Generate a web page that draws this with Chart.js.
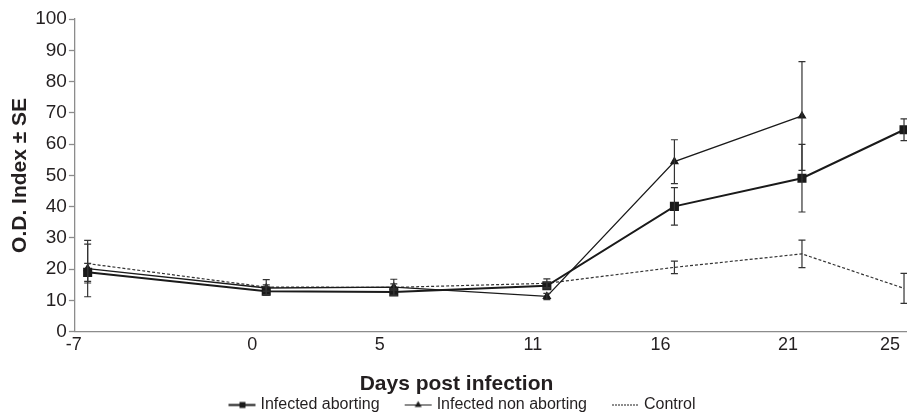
<!DOCTYPE html>
<html>
<head>
<meta charset="utf-8">
<script src="https://cdn.jsdelivr.net/npm/chart.js@4.4.1/dist/chart.umd.min.js"></script>
<style>
html,body{margin:0;padding:0;background:#fff;}
#wrap{width:907px;height:414px;position:relative;}
</style>
</head>
<body>
<div id="wrap"><canvas id="c" width="907" height="414"></canvas></div>
<script>
// ---- data ----
const days = [-7, 0, 5, 11, 16, 21, 25];
const abortingMean = [19.0, 13.0, 12.7, 14.7, 40.1, 49.1, 64.6];
const abortingSE   = [2.9, 1.4, 1.0, 1.0, 6.0, 10.8, 3.5];
const nonAbortingMean = [20.2, 14.0, 14.3, 11.3, 54.4, 69.0, null];
const nonAbortingSE   = [9.0, 1.0, 1.0, 1.0, 7.0, 17.4, null];
const controlMean = [21.8, 14.3, 14.2, 15.5, 20.6, 24.9, 13.9];
const controlSE   = [6.2, 2.4, 2.6, 1.4, 2.0, 4.4, 4.8];
const yTicks = [0, 10, 20, 30, 40, 50, 60, 70, 80, 90, 100];
const seriesNames = ['Infected aborting', 'Infected non aborting', 'Control'];

const TXT = '#231f20';
const FONT = "'Liberation Sans', Arial, Helvetica, sans-serif";

function pts(means) {
  return days.map((d, i) => means[i] == null ? null : {x: d, y: means[i]}).filter(p => p);
}

// legend samples (drawn on the right part of a wider transparent canvas)
const LB = 35;            // legend box width
const SW = LB + 8, SH = 11, S1 = SW - 1, S0 = S1 - 27;
function sample(kind) {
  const c = document.createElement('canvas');
  c.width = SW; c.height = SH;
  const g = c.getContext('2d');
  g.strokeStyle = '#1a1a1a';
  g.fillStyle = '#1a1a1a';
  const cx = (S0 + S1) / 2;
  if (kind === 'dash') {
    g.lineWidth = 1;
    g.setLineDash([2, 1]);
    g.beginPath(); g.moveTo(S0, 5.5); g.lineTo(S1, 5.5); g.stroke();
  } else if (kind === 'sq') {
    g.lineWidth = 2;
    g.beginPath(); g.moveTo(S0, 5.5); g.lineTo(S1, 5.5); g.stroke();
    g.fillRect(Math.round(cx) - 3, 2.5, 6, 6);
  } else {
    g.lineWidth = 1;
    g.beginPath(); g.moveTo(S0, 5.5); g.lineTo(S1, 5.5); g.stroke();
    g.beginPath(); g.moveTo(cx, 1.5); g.lineTo(cx + 3.5, 7.5); g.lineTo(cx - 3.5, 7.5); g.closePath(); g.fill();
  }
  return c;
}
const samples = [sample('sq'), sample('tri'), sample('dash')];

const errorBars = {
  id: 'errorBars',
  afterDatasetsDraw(chart) {
    const ctx = chart.ctx;
    const xs = chart.scales.x, ys = chart.scales.y;
    chart.data.datasets.forEach(ds => {
      const se = ds.se;
      ctx.save();
      ctx.strokeStyle = '#333';
      ctx.lineWidth = 1.2;
      days.forEach((d, i) => {
        const m = ds.mean[i], e = se[i];
        if (m == null || e == null) return;
        const x = xs.getPixelForValue(d);
        const y1 = ys.getPixelForValue(m + e), y2 = ys.getPixelForValue(m - e);
        ctx.beginPath();
        ctx.moveTo(x, y1); ctx.lineTo(x, y2);
        ctx.moveTo(x - 3.5, y1); ctx.lineTo(x + 3.5, y1);
        ctx.moveTo(x - 3.5, y2); ctx.lineTo(x + 3.5, y2);
        ctx.stroke();
      });
      ctx.restore();
    });
  }
};

new Chart(document.getElementById('c'), {
  type: 'line',
  data: {
    datasets: [
      {
        label: seriesNames[0], data: pts(abortingMean), mean: abortingMean, se: abortingSE,
        borderColor: '#1a1a1a', backgroundColor: '#1a1a1a', borderWidth: 2,
        pointStyle: 'rect', pointRadius: 5, pointHoverRadius: 5, order: 1
      },
      {
        label: seriesNames[1], data: pts(nonAbortingMean), mean: nonAbortingMean, se: nonAbortingSE,
        borderColor: '#1a1a1a', backgroundColor: '#1a1a1a', borderWidth: 1.3,
        pointStyle: 'triangle', pointRadius: 4, pointHoverRadius: 4, order: 2
      },
      {
        label: seriesNames[2], data: pts(controlMean), mean: controlMean, se: controlSE,
        borderColor: '#333', backgroundColor: '#333', borderWidth: 1.2, borderDash: [3, 2],
        pointRadius: 0, pointHoverRadius: 0, order: 3
      }
    ]
  },
  options: {
    responsive: false,
    animation: false,
    layout: { autoPadding: false, padding: { top: 19, left: 6, right: 0, bottom: -9 } },
    plugins: {
      tooltip: { enabled: false },
      title: {
        display: true, position: 'bottom', text: 'Days post infection', weight: 500,
        color: TXT, font: { family: FONT, size: 21, weight: 'bold' },
        padding: { top: 14, bottom: -13.6 }
      },
      legend: {
        position: 'bottom',
        labels: {
          color: TXT, font: { family: FONT, size: 16 },
          usePointStyle: true, pointStyleWidth: LB, padding: 14,
          generateLabels: (chart) => seriesNames.map((n, i) => ({
            text: n, pointStyle: samples[i], datasetIndex: i, hidden: false,
            fillStyle: '#222', strokeStyle: '#222', lineWidth: 0, fontColor: TXT
          }))
        }
      }
    },
    scales: {
      x: {
        type: 'linear', min: -7.5, max: 25.117,
        afterBuildTicks: s => { s.ticks = days.map(v => ({ value: v })); },
        afterFit: s => { s.paddingRight = 0; s.paddingLeft = 0; },
        grid: { display: false, drawTicks: false },
        border: { display: true, color: '#8c8c8c', width: 1.3 },
        ticks: { color: TXT, font: { family: FONT, size: 18 }, labelOffset: -14, padding: 2, maxRotation: 0, autoSkip: false }
      },
      y: {
        min: 0, max: 100,
        afterBuildTicks: s => { s.ticks = yTicks.map(v => ({ value: v })); },
        afterFit: s => { s.paddingTop = 0; s.paddingBottom = 0; },
        grid: { drawOnChartArea: false, drawTicks: true, tickLength: 6, color: '#8c8c8c', tickWidth: 1.3 },
        border: { display: true, color: '#8c8c8c', width: 1.3 },
        ticks: { color: TXT, font: { family: FONT, size: 19 }, padding: 2 },
        title: { display: true, text: 'O.D. Index ± SE', color: TXT, font: { family: FONT, size: 21, weight: 'bold' }, padding: { top: 2, bottom: 0 } }
      }
    }
  },
  plugins: [errorBars]
});
</script>
</body>
</html>
